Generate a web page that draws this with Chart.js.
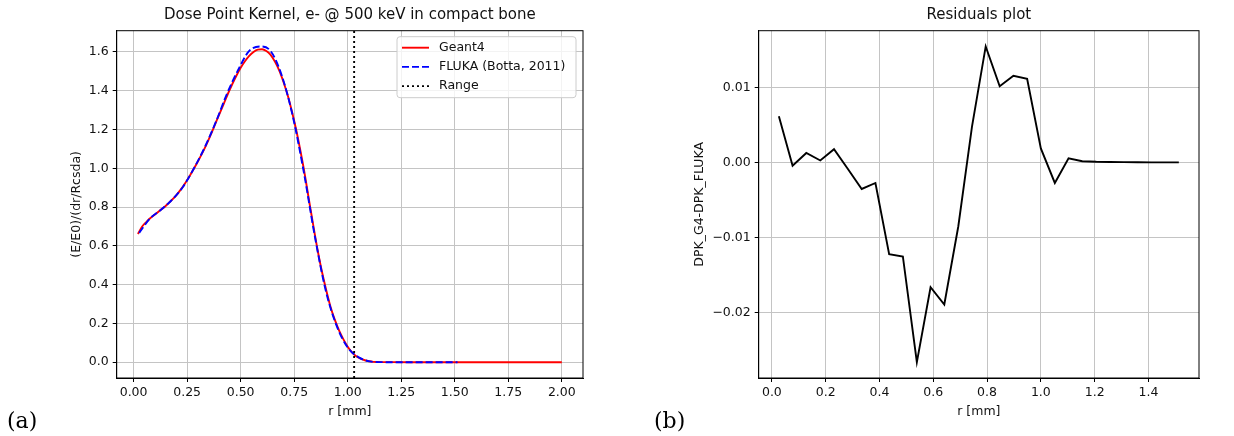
<!DOCTYPE html>
<html>
<head>
<meta charset="utf-8">
<script src="https://cdn.jsdelivr.net/npm/chart.js@4.4.1/dist/chart.umd.min.js"></script>
<style>
  body { margin: 0; background: #fff; }
  #wrap { position: relative; width: 1234px; height: 436px; overflow: hidden; }
  canvas { position: absolute; top: 0; }
  #dpkChart { left: 0; }
  #resChart { left: 620px; }
  .panel-tag { position: absolute; font-family: 'DejaVu Serif', 'Liberation Serif', serif; font-size: 22px; line-height: 1; color: #000; }
</style>
</head>
<body>
<div id="wrap">
  <canvas id="dpkChart" width="620" height="436"></canvas>
  <canvas id="resChart" width="614" height="436"></canvas>
  <div class="panel-tag" style="left:7px; top:410px;">(a)</div>
  <div class="panel-tag" style="left:654px; top:410px;">(b)</div>
</div>
<script>
// Dose point kernel data

// Geant4 (red, solid)
const g4R = [0.02, 0.04, 0.06, 0.08, 0.10, 0.12, 0.14, 0.16, 0.18, 0.20,
    0.22, 0.24, 0.26, 0.28, 0.30, 0.32, 0.34, 0.36, 0.38, 0.40,
    0.42, 0.44, 0.46, 0.48, 0.50, 0.52, 0.54, 0.56, 0.58, 0.60,
    0.62, 0.64, 0.66, 0.68, 0.70, 0.72, 0.74, 0.76, 0.78, 0.80,
    0.82, 0.84, 0.86, 0.88, 0.90, 0.92, 0.94, 0.96, 0.98, 1.00,
    1.02, 1.04, 1.06, 1.08, 1.10, 1.12, 1.14, 1.16, 1.20, 1.30,
    1.40, 1.50, 1.60, 1.70, 1.80, 1.90, 2.00];
const g4Dose = [0.661, 0.700, 0.724, 0.745, 0.762, 0.780, 0.797, 0.817, 0.838, 0.862,
    0.890, 0.922, 0.957, 0.995, 1.035, 1.077, 1.122, 1.172, 1.225, 1.278,
    1.330, 1.383, 1.432, 1.477, 1.518, 1.552, 1.580, 1.600, 1.612, 1.614,
    1.605, 1.585, 1.550, 1.505, 1.445, 1.375, 1.290, 1.195, 1.085, 0.965,
    0.830, 0.700, 0.575, 0.465, 0.370, 0.285, 0.218, 0.163, 0.118, 0.080,
    0.051, 0.031, 0.018, 0.010, 0.005, 0.002, 0.001, 0.0005, 0.0002, 0.0001,
    0.00005, 0.00003, 0.00002, 0.00001, 0, 0, 0];

// FLUKA (Botta, 2011) (blue, dashed) and residuals share the same r grid
const flukaR = [0.026, 0.077, 0.128, 0.180, 0.231, 0.282, 0.334, 0.385, 0.436, 0.487,
    0.539, 0.590, 0.641, 0.693, 0.744, 0.795, 0.847, 0.898, 0.949, 1.000,
    1.052, 1.103, 1.154, 1.206, 1.257, 1.308, 1.360, 1.411, 1.462, 1.513];
const flukaDose = [0.667, 0.742, 0.786, 0.838, 0.905, 1.000, 1.112, 1.241, 1.384, 1.504,
    1.604, 1.628, 1.603, 1.475, 1.266, 0.980, 0.646, 0.367, 0.186, 0.076,
    0.025, 0.004, 0.0004, 0.0001, 0.0001, 0.0001, 0.0001, 0.0001, 0.0001, 0.0001];
const residuals = [0.0062, -0.0004, 0.0013, 0.0003, 0.0018, -0.0008, -0.0035, -0.0027, -0.0122, -0.0125,
    -0.0266, -0.0166, -0.0189, -0.0085, 0.0048, 0.0155, 0.0102, 0.0116, 0.0112, 0.0019,
    -0.0027, 0.0006, 0.0002, 0.00012, 0.0001, 0.00008, 0.00006, 0.00005, 0.00005, 0.00004];

// CSDA range marker [mm]
const rangeR = 1.03;

// Axis limits and tick labels
const leftXLim = [-0.079, 2.099];
const leftYLim = [-0.0814, 1.7094];
const leftXTicks = [0, 0.25, 0.5, 0.75, 1.0, 1.25, 1.5, 1.75, 2.0];
const leftYTicks = [0, 0.2, 0.4, 0.6, 0.8, 1.0, 1.2, 1.4, 1.6];
const rightXLim = [-0.049, 1.588];
const rightYLim = [-0.0287, 0.0176];
const rightXTicks = [0, 0.2, 0.4, 0.6, 0.8, 1.0, 1.2, 1.4];
const rightYTicks = [-0.02, -0.01, 0, 0.01];

Chart.defaults.font.family = "'DejaVu Sans', sans-serif";
Chart.defaults.font.size = 12.5;
Chart.defaults.color = '#111';

const pairs = (xs, ys) => xs.map((x, i) => ({ x: x, y: ys[i] }));
const minusFmt = (v, d) => (v < 0 ? '\u2212' : '') + Math.abs(v).toFixed(d);

// draws the top/right spines too (matplotlib box)
const frame = {
    id: 'frame',
    afterDatasetsDraw(chart) {
        const { ctx, chartArea } = chart;
        ctx.save();
        ctx.strokeStyle = '#000';
        ctx.lineWidth = 1;
        ctx.strokeRect(chartArea.left, chartArea.top, chartArea.right - chartArea.left, chartArea.bottom - chartArea.top);
        ctx.restore();
    }
};

// legend box inside the axes, upper right
const boxLegend = {
    id: 'boxLegend',
    afterDraw(chart, args, opts) {
        if (!opts.show) return;
        const { ctx, chartArea } = chart;
        const w = 179, h = 61;
        const x0 = chartArea.right - 7 - w;
        const y0 = chartArea.top + 6;
        ctx.save();
        ctx.fillStyle = 'rgba(255,255,255,0.8)';
        ctx.strokeStyle = '#cccccc';
        ctx.lineWidth = 1;
        ctx.beginPath();
        ctx.roundRect(x0, y0, w, h, 3);
        ctx.fill();
        ctx.stroke();
        ctx.font = "12.5px 'DejaVu Sans'";
        ctx.textBaseline = 'middle';
        chart.data.datasets.forEach((ds, i) => {
            const y = y0 + 11 + i * 19.2;
            ctx.strokeStyle = ds.borderColor;
            ctx.lineWidth = ds.borderWidth;
            ctx.setLineDash(ds.borderDash || []);
            ctx.beginPath();
            ctx.moveTo(x0 + 5, y);
            ctx.lineTo(x0 + 32, y);
            ctx.stroke();
            ctx.setLineDash([]);
            ctx.fillStyle = '#111';
            ctx.fillText(ds.label, x0 + 42, y);
        });
        ctx.restore();
    }
};

function axisX(lim, ticks, digits, plotBottom, canvasH) {
    return {
        type: 'linear',
        min: lim[0],
        max: lim[1],
        afterBuildTicks: s => { s.ticks = ticks.map(v => ({ value: v })); },
        afterFit: s => { s.height = canvasH - plotBottom; },
        grid: { color: '#c4c4c4', lineWidth: 1, tickLength: 4, tickColor: '#000', tickWidth: 1 },
        border: { color: '#000', width: 1 },
        ticks: { autoSkip: false, maxRotation: 0, padding: 3, callback: v => minusFmt(v, digits) },
        title: { display: true, text: 'r [mm]', font: { size: 12.5 }, padding: { top: 0, bottom: 17 } }
    };
}

function axisY(lim, ticks, digits, width, label, titlePad) {
    return {
        type: 'linear',
        min: lim[0],
        max: lim[1],
        afterBuildTicks: s => { s.ticks = ticks.map(v => ({ value: v })); },
        afterFit: s => { s.width = width; },
        grid: { color: '#c4c4c4', lineWidth: 1, tickLength: 4, tickColor: '#000', tickWidth: 1 },
        border: { color: '#000', width: 1 },
        ticks: { autoSkip: false, padding: 4, callback: v => minusFmt(v, digits) },
        title: { display: true, text: label, font: { size: 12.5 }, padding: { top: titlePad, bottom: 0 } }
    };
}

function titleOpts(text) {
    return {
        display: true,
        text: text,
        fullSize: false,
        color: '#111',
        font: { size: 15, weight: 'normal' },
        padding: { top: 6, bottom: 6.7 }
    };
}

new Chart(document.getElementById('dpkChart'), {
    type: 'line',
    data: {
        datasets: [
            {
                label: 'Geant4',
                data: pairs(g4R, g4Dose),
                borderColor: '#ff0000',
                borderWidth: 1.9,
                pointRadius: 0,
                cubicInterpolationMode: 'monotone',
                order: 3
            },
            {
                label: 'FLUKA (Botta, 2011)',
                data: pairs(flukaR, flukaDose),
                borderColor: '#0000ff',
                borderWidth: 1.9,
                borderDash: [7, 3],
                pointRadius: 0,
                cubicInterpolationMode: 'monotone',
                order: 2
            },
            {
                label: 'Range',
                data: [{ x: rangeR, y: leftYLim[0] }, { x: rangeR, y: leftYLim[1] }],
                borderColor: '#000000',
                borderWidth: 1.9,
                borderDash: [2, 3],
                pointRadius: 0,
                order: 1
            }
        ]
    },
    options: {
        responsive: false,
        animation: false,
        events: [],
        layout: { padding: { left: 0, right: 37, top: 0, bottom: 0 } },
        scales: {
            x: axisX(leftXLim, leftXTicks, 2, 378, 436),
            y: axisY(leftYLim, leftYTicks, 1, 116.7, '(E/E0)/(dr/Rcsda)', 69)
        },
        plugins: {
            legend: { display: false },
            tooltip: { enabled: false },
            title: titleOpts('Dose Point Kernel, e- @ 500 keV in compact bone'),
            boxLegend: { show: true }
        }
    },
    plugins: [frame, boxLegend]
});

new Chart(document.getElementById('resChart'), {
    type: 'line',
    data: {
        datasets: [
            {
                label: 'DPK_G4-DPK_FLUKA',
                data: pairs(flukaR, residuals),
                borderColor: '#000000',
                borderWidth: 1.9,
                pointRadius: 0,
                tension: 0
            }
        ]
    },
    options: {
        responsive: false,
        animation: false,
        events: [],
        layout: { padding: { left: 0, right: 35, top: 0, bottom: 0 } },
        scales: {
            x: axisX(rightXLim, rightXTicks, 1, 378, 436),
            y: axisY(rightYLim, rightYTicks, 2, 138.7, 'DPK_G4-DPK_FLUKA', 72)
        },
        plugins: {
            legend: { display: false },
            tooltip: { enabled: false },
            title: titleOpts('Residuals plot'),
            boxLegend: { show: false }
        }
    },
    plugins: [frame, boxLegend]
});
</script>
</body>
</html>
